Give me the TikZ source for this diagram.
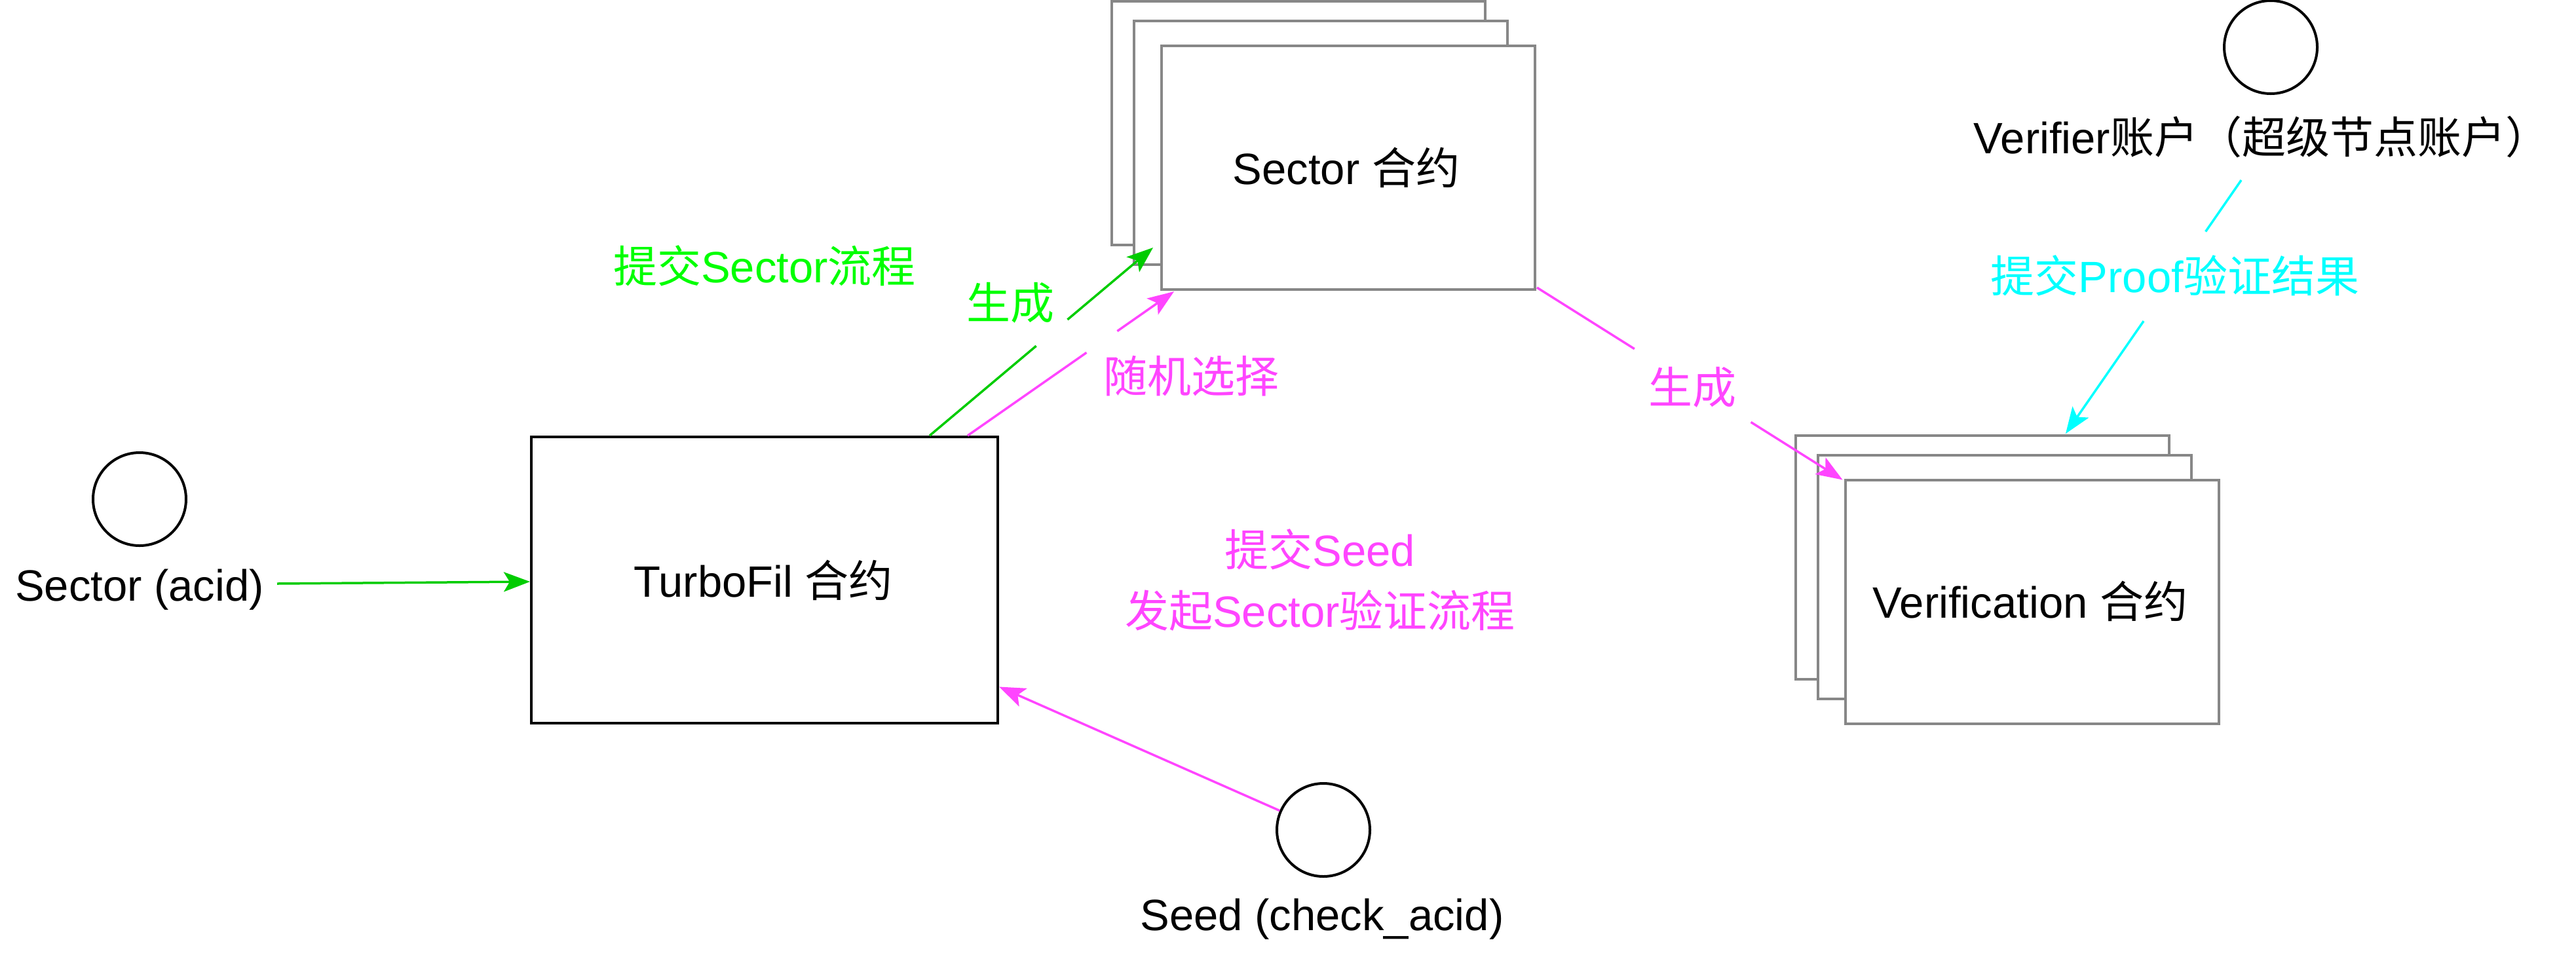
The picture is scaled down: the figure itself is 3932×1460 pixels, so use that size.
\documentclass[tikz,border=0pt]{standalone}
\usepackage{fontspec}
\setmainfont{Liberation Sans}
\newfontfamily\cjk{Noto Sans CJK SC}
\usetikzlibrary{arrows.meta,calc}
\newcommand\zh[1]{{\cjk #1}}
\definecolor{boxgray}{HTML}{878787}
\definecolor{lgreen}{HTML}{00CC00}
\definecolor{tgreen}{HTML}{00FF00}
\definecolor{lmag}{HTML}{FF45FF}
\definecolor{lcyan}{HTML}{00FFFF}
\begin{document}
\begin{tikzpicture}[x=1pt,y=-1pt,
  stackbox/.style={draw=boxgray, line width=4pt, fill=white, minimum width=570pt, minimum height=372pt, inner sep=0pt},
  mainbox/.style={draw=black, line width=4pt, fill=white, minimum width=712pt, minimum height=437pt, inner sep=0pt},
  actor/.style={circle, draw=black, line width=4pt, minimum size=142pt, inner sep=0pt},
  txt/.style={font=\fontsize{67pt}{80pt}\selectfont, inner sep=0pt, anchor=base},
  ctxt/.style={font=\fontsize{67pt}{80pt}\selectfont, inner sep=0pt, anchor=center},
  tip/.style={-{Stealth[length=40pt,width=30pt,inset=9pt]}},
  gconn/.style={draw=lgreen, line width=3.5pt},
  mconn/.style={draw=lmag, line width=3.5pt},
  cconn/.style={draw=lcyan, line width=3.5pt}]
\path[use as bounding box, fill=white] (0,0) rectangle (3932,1460);

% TurboFil
\node[mainbox] (turbo) at (1167,885.5) {};
\node[txt] (turbotxt) at ($(turbo)+(-2,25.5)$) {TurboFil \zh{合约}};

% Sector contract stack
\node[stackbox] (sec1) at (1982,188) {};
\node[stackbox] (sec2) at (2016,218) {};
\node[stackbox] (sec3) at (2058,256) {};
\node[txt] (sectxt) at ($(sec3)+(-3,25)$) {Sector \zh{合约}};

% Verification contract stack
\node[stackbox] (ver1) at (3026,851) {};
\node[stackbox] (ver2) at (3060,880.5) {};
\node[stackbox] (ver3) at (3101.5,918.5) {};
\node[txt] (vertxt) at ($(ver3)+(-2.5,24.5)$) {Verification \zh{合约}};

% actors
\node[actor] (acid) at (213,762) {};
\node[txt] (acidlbl) at (213,917) {Sector (acid)};
\node[actor] (seed) at (2020,1267) {};
\node[txt] (seedlbl) at (2018,1420) {Seed (check\_acid)};
\node[actor] (verifier) at (3466,72) {};
\node[txt] (verlbl) at (3452,234) {Verifier\zh{账户（超级节点账户）}};

% labels
\node[txt, text=tgreen] (lsubmit) at (1167,431) {\zh{提交}Sector\zh{流程}};
\node[ctxt, text=tgreen] (lgen1) at (1542,462) {\zh{生成}};
\node[ctxt, text=lmag] (lrand) at (1818,574) {\zh{随机选择}};
\node[ctxt, text=lmag] (lgen2) at (2583,591) {\zh{生成}};
\node[txt, text=lmag] (lseed1) at (2015,864) {\zh{提交}Seed};
\node[txt, text=lmag] (lseed2) at (2015,957) {\zh{发起}Sector\zh{验证流程}};
\node[txt, text=lcyan] (lproof) at (3320,446) {\zh{提交}Proof\zh{验证结果}};

% connector end points
\coordinate (acidout) at (423,891);
\coordinate (turboin) at ($(turbo.west)+(0,2.5)$);
\coordinate (seedin) at ($(turbo.east)+(0,163)$);
\coordinate (g1s) at ($(turbo.north west)+(610,0)$);
\coordinate (g1e) at ($(sec3.south west)+(-11,-66)$);
\coordinate (m1s) at ($(turbo.north west)+(668,0)$);
\coordinate (m1e) at ($(sec3.south west)+(21,1)$);
\coordinate (m2s) at ($(sec3.south east)+(1,-5)$);
\coordinate (m2e) at ($(ver3.north west)+(-2,2)$);
\coordinate (c1s) at (3421,275);
\coordinate (c1e) at ($(ver1.north west)+(414,-1)$);

% connectors
\draw[gconn, tip] (acidout) -- (turboin);
\draw[mconn, tip] (seed) -- (seedin);

\draw[gconn] (g1s) -- ($(g1s)!0.477!(g1e)$);
\draw[gconn, tip] ($(g1s)!0.617!(g1e)$) -- (g1e);

\draw[mconn] (m1s) -- ($(m1s)!0.576!(m1e)$);
\draw[mconn, tip] ($(m1s)!0.725!(m1e)$) -- (m1e);

\draw[mconn] (m2s) -- ($(m2s)!0.319!(m2e)$);
\draw[mconn, tip] ($(m2s)!0.70!(m2e)$) -- (m2e);

\draw[cconn] (c1s) -- ($(c1s)!0.203!(c1e)$);
\draw[cconn, tip] ($(c1s)!0.556!(c1e)$) -- (c1e);
\end{tikzpicture}
\end{document}
